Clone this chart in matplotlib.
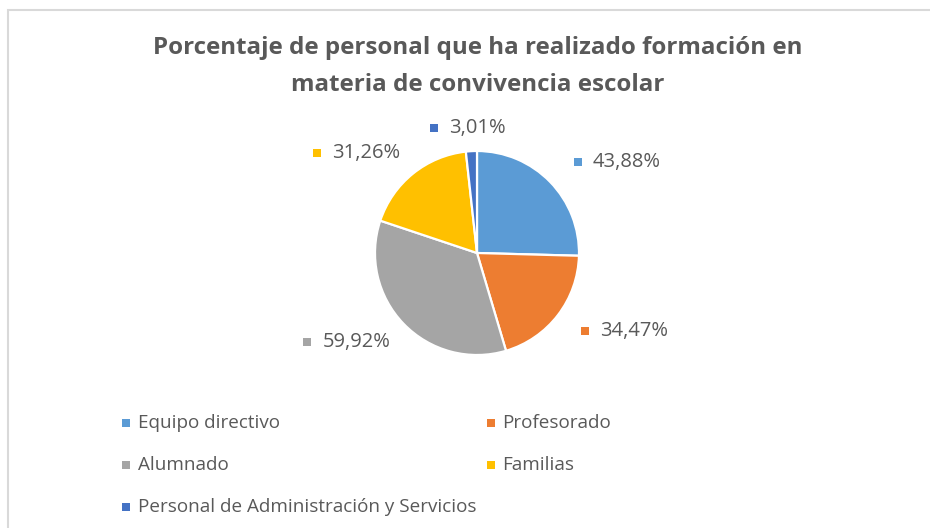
import matplotlib

matplotlib.use("Agg")
import matplotlib.pyplot as plt
from matplotlib.patches import Rectangle

# datos
categories = ["Equipo directivo", "Profesorado", "Alumnado", "Familias",
              "Personal de Administración y Servicios"]
values = [43.88, 34.47, 59.92, 31.26, 3.01]
value_labels = ["43,88%", "34,47%", "59,92%", "31,26%", "3,01%"]
colors = ["#5B9BD5", "#ED7D31", "#A5A5A5", "#FFC000", "#4472C4"]

GRAY = "#595959"
FONT = "Open Sans"
W, H = 930, 528

fig = plt.figure(figsize=(W / 100, H / 100), dpi=100)
ax = fig.add_axes([0, 0, 1, 1])


def Y(y):
    # coordenadas en pixeles con origen arriba
    return H - y


ax.pie(values, colors=colors, startangle=90, counterclock=False,
       center=(477, Y(253)), radius=102, frame=False,
       wedgeprops=dict(edgecolor="white", linewidth=1.6))
ax.set_xlim(0, W)
ax.set_ylim(0, H)
ax.set_aspect("auto")
ax.axis("off")

# marco del grafico
ax.add_patch(Rectangle((8, Y(540)), 940, 530, fill=False,
                       edgecolor="#d9d9d9", linewidth=1.5, clip_on=False))

# titulo
ax.text(478, Y(48), "Porcentaje de personal que ha realizado formación en",
        ha="center", va="center", fontsize=17.4, fontweight="bold",
        color=GRAY, family=FONT)
ax.text(478, Y(85), "materia de convivencia escolar",
        ha="center", va="center", fontsize=17.4, fontweight="bold",
        color=GRAY, family=FONT)

# etiquetas de datos (posicion del marcador)
label_pos = [(577.5, 161.5), (585, 331), (307, 342), (317, 153), (434, 127.5)]
for (x, y), lab, c in zip(label_pos, value_labels, colors):
    ax.scatter([x], [Y(y)], marker="s", s=33, color=c, linewidths=0)
    ax.text(x + 15.5, Y(y), lab, ha="left", va="center", fontsize=14.5,
            color=GRAY, family=FONT)

# leyenda (dos columnas, por filas)
for i, (cat, c) in enumerate(zip(categories, colors)):
    x = 126 + 365 * (i % 2)
    y = 422.5 + 42 * (i // 2)
    ax.scatter([x], [Y(y)], marker="s", s=27, color=c, linewidths=0)
    ax.text(x + 11.5, Y(y), cat, ha="left", va="center", fontsize=13.6,
            color=GRAY, family=FONT)

fig.savefig("out.png", dpi=100, facecolor="white")
